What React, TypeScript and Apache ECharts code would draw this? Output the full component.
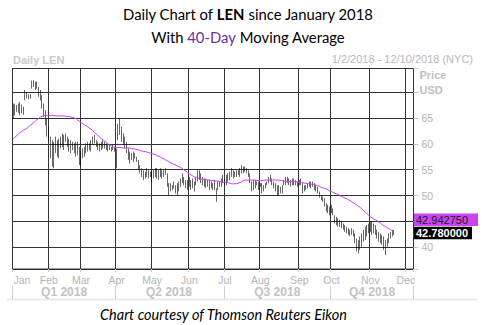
import React, { useEffect, useRef } from "react";
import * as echarts from "echarts";

const W = 482;
const H = 325;

const HOLIDAYS = [
  "2018-01-01", "2018-01-15", "2018-02-19", "2018-03-30", "2018-05-28",
  "2018-07-04", "2018-09-03", "2018-11-22", "2018-12-05",
];
const MONTHS = ["Jan", "Feb", "Mar", "Apr", "May", "Jun", "Jul", "Aug", "Sep", "Oct", "Nov", "Dec"];
const QUARTER_LABELS = ["Q1 2018", "Q2 2018", "Q3 2018", "Q4 2018"];
// 45 is hidden behind the value boxes in the reference
const Y_TICK_LABELS = [40, 50, 55, 60, 65];

const LOWS = [
  64.9, 65.5, 66.2, 66.0, 65.5, 65.9, 65.6, 68.4, 68.8, 68.6,
  68.7, 70.7, 71.0, 70.4, 70.7, 69.1, 68.4, 66.8, 65.2, 63.6,
  61.4, 60.4, 57.2, 55.6, 55.3, 58.2, 57.5, 57.2, 59.1, 59.4,
  58.8, 60.4, 59.4, 58.5, 58.2, 58.8, 58.2, 57.5, 57.8, 55.9,
  55.9, 57.2, 57.5, 58.2, 58.5, 58.8, 58.5, 59.8, 60.1, 59.4,
  58.8, 58.5, 58.8, 59.1, 59.1, 58.8, 58.5, 58.8, 58.5, 58.8,
  58.5, 55.3, 60.7, 61.7, 60.4, 59.8, 59.1, 58.2, 56.9, 56.2,
  56.9, 56.5, 57.2, 56.5, 54.9, 54.3, 53.6, 53.0, 53.3, 53.6,
  53.3, 53.6, 52.7, 53.3, 53.6, 53.3, 53.0, 53.6, 53.3, 53.6,
  54.0, 51.7, 50.1, 50.8, 51.1, 51.4, 50.4, 50.1, 50.8, 51.7,
  52.4, 52.0, 51.4, 51.1, 51.7, 51.1, 51.4, 50.8, 52.0, 52.7,
  53.0, 52.4, 52.0, 51.7, 51.4, 51.7, 51.1, 51.4, 51.1, 51.1,
  48.8, 51.1, 51.7, 51.7, 52.4, 52.0, 52.0, 52.7, 53.0, 53.6,
  53.3, 53.6, 53.6, 54.0, 53.6, 54.3, 54.3, 54.6, 54.3, 53.6,
  52.4, 50.8, 51.1, 51.4, 52.0, 51.1, 51.7, 50.4, 50.8, 51.4,
  52.0, 52.4, 52.7, 52.0, 51.4, 50.8, 50.1, 50.1, 50.4, 50.4,
  52.0, 52.0, 52.4, 52.0, 51.7, 52.0, 52.0, 52.0, 51.7, 52.0,
  52.0, 50.4, 50.8, 51.1, 51.4, 51.7, 51.4, 51.7, 51.1, 50.8,
  50.4, 49.6, 49.1, 48.8, 47.9, 46.9, 46.6, 46.2, 46.6, 46.2,
  44.6, 44.3, 44.0, 44.0, 43.7, 43.4, 43.0, 42.7, 42.4, 42.1,
  42.4, 42.1, 40.8, 39.2, 38.8, 39.5, 40.1, 41.1, 41.4, 42.1,
  42.7, 43.0, 42.4, 42.7, 42.4, 41.7, 41.1, 40.8, 40.5, 39.5,
  38.5, 40.1, 40.8, 41.7, 42.1, 42.4,
];

const HIGHS = [
  67.8, 67.6, 67.5, 67.8, 68.1, 67.6, 67.2, 70.4, 70.0, 69.6,
  69.6, 72.2, 72.3, 72.0, 72.0, 71.0, 70.4, 69.4, 67.8, 66.5,
  64.9, 63.3, 61.4, 60.7, 60.4, 61.4, 60.7, 61.0, 61.4, 62.0,
  61.7, 62.0, 61.4, 61.0, 60.7, 60.4, 60.1, 60.4, 60.4, 59.4,
  58.5, 59.1, 59.4, 60.1, 60.4, 60.1, 60.7, 61.4, 61.7, 60.7,
  60.4, 60.1, 60.4, 60.7, 60.4, 60.1, 59.8, 59.8, 59.4, 59.8,
  59.4, 59.1, 63.9, 64.9, 63.3, 62.0, 61.4, 60.4, 59.1, 58.5,
  58.2, 58.5, 58.2, 57.5, 56.9, 55.9, 55.3, 54.9, 54.6, 55.3,
  54.9, 54.6, 54.9, 54.9, 55.3, 55.3, 54.9, 55.3, 54.9, 54.9,
  55.3, 54.3, 52.4, 52.4, 52.0, 52.7, 52.0, 52.4, 52.7, 53.3,
  54.3, 53.6, 53.0, 53.0, 53.6, 53.0, 53.3, 52.7, 53.6, 54.9,
  54.9, 54.3, 53.6, 53.3, 53.3, 53.0, 53.0, 52.7, 52.4, 53.0,
  51.4, 52.7, 52.7, 53.3, 54.0, 53.3, 54.0, 54.3, 54.6, 55.3,
  54.9, 54.6, 54.9, 54.9, 55.3, 55.9, 55.6, 55.6, 55.3, 54.9,
  54.3, 52.7, 53.0, 53.0, 52.7, 52.7, 52.4, 52.4, 52.0, 52.4,
  52.7, 53.6, 54.0, 53.3, 52.7, 52.4, 52.0, 52.0, 51.7, 52.0,
  53.0, 53.6, 53.6, 53.3, 53.0, 53.3, 53.3, 53.0, 52.7, 53.0,
  53.3, 52.4, 52.0, 52.0, 52.4, 52.7, 52.7, 52.7, 52.4, 52.0,
  51.7, 50.8, 50.1, 49.8, 49.5, 48.5, 48.2, 47.9, 48.2, 47.5,
  46.2, 45.9, 45.6, 45.3, 45.0, 44.6, 44.3, 44.0, 43.7, 43.4,
  43.7, 43.4, 42.7, 41.7, 41.4, 42.1, 42.7, 43.4, 44.0, 44.3,
  44.6, 45.0, 45.0, 44.6, 44.3, 43.4, 43.0, 42.7, 42.4, 42.1,
  41.4, 41.7, 42.7, 43.0, 43.4, 43.35,
];

const MA40 = [
  61.0, 61.3, 61.6, 61.9, 62.2, 62.4, 62.6, 62.8, 63.0, 63.3,
  63.6, 63.8, 64.1, 64.4, 64.7, 64.9, 65.2, 65.3, 65.5, 65.5,
  65.5, 65.5, 65.5, 65.5, 65.5, 65.4, 65.4, 65.4, 65.4, 65.4,
  65.4, 65.3, 65.3, 65.3, 65.2, 65.1, 65.0, 64.9, 64.6, 64.4,
  64.1, 63.9, 63.7, 63.5, 63.3, 63.0, 62.8, 62.5, 62.2, 61.9,
  61.6, 61.3, 61.0, 60.8, 60.5, 60.3, 60.0, 59.8, 59.6, 59.4,
  59.3, 59.3, 59.3, 59.3, 59.3, 59.2, 59.2, 59.2, 59.2, 59.2,
  59.1, 59.0, 59.0, 58.9, 58.8, 58.7, 58.6, 58.5, 58.5, 58.4,
  58.3, 58.2, 58.1, 58.0, 57.9, 57.7, 57.6, 57.4, 57.2, 57.1,
  56.9, 56.7, 56.5, 56.3, 56.2, 56.0, 55.9, 55.7, 55.6, 55.4,
  55.2, 54.9, 54.7, 54.4, 54.2, 54.0, 53.8, 53.6, 53.5, 53.4,
  53.3, 53.2, 53.2, 53.1, 53.1, 53.0, 53.0, 52.9, 52.9, 52.8,
  52.8, 52.8, 52.7, 52.7, 52.6, 52.6, 52.5, 52.5, 52.4, 52.3,
  52.25, 52.3, 52.3, 52.4, 52.5, 52.7, 52.9, 53.0, 53.0, 53.0,
  53.0, 53.0, 53.0, 53.0, 52.9, 52.9, 52.9, 52.9, 52.9, 53.0,
  53.0, 53.0, 53.0, 53.0, 53.0, 53.0, 53.0, 53.0, 52.9, 52.9,
  52.8, 52.8, 52.7, 52.7, 52.7, 52.7, 52.7, 52.7, 52.6, 52.6,
  52.5, 52.5, 52.4, 52.4, 52.3, 52.3, 52.2, 52.2, 52.1, 52.0,
  51.9, 51.8, 51.6, 51.5, 51.4, 51.3, 51.1, 50.9, 50.8, 50.6,
  50.5, 50.3, 50.2, 50.0, 49.8, 49.7, 49.5, 49.4, 49.2, 49.0,
  48.8, 48.6, 48.4, 48.2, 47.9, 47.7, 47.4, 47.1, 46.8, 46.5,
  46.2, 45.9, 45.7, 45.5, 45.3, 45.1, 44.9, 44.7, 44.4, 44.2,
  44.0, 43.8, 43.6, 43.4, 43.2, 42.94,
];

const LAST_CLOSE = 42.78;
const LAST_MA = 42.94275;
const Y_MIN = 35.81;
const Y_MAX = 74.56;

function tradingDays(): string[] {
  const out: string[] = [];
  const d = new Date(Date.UTC(2018, 0, 2));
  const end = Date.UTC(2018, 11, 10);
  while (d.getTime() <= end) {
    const dow = d.getUTCDay();
    const s = d.toISOString().slice(0, 10);
    if (dow !== 0 && dow !== 6 && HOLIDAYS.indexOf(s) < 0) out.push(s);
    d.setUTCDate(d.getUTCDate() + 1);
  }
  return out;
}

const DATES = tradingDays();
const monthOf = (s: string) => parseInt(s.slice(5, 7), 10) - 1;
const MONTH_START = new Set<number>();
DATES.forEach((s, i) => {
  if (i === 0 || monthOf(s) !== monthOf(DATES[i - 1])) MONTH_START.add(i);
});
const QUARTER_START: number[] = [];
MONTH_START.forEach((i) => {
  if (monthOf(DATES[i]) % 3 === 0) QUARTER_START.push(i);
});
const QUARTER_MID = new Map<number, number>();
QUARTER_START.forEach((s, q) => {
  const e = q + 1 < QUARTER_START.length ? QUARTER_START[q + 1] - 1 : DATES.length - 1;
  QUARTER_MID.set(Math.floor((s + e) / 2), q);
});
const QUARTER_START_SET = new Set(QUARTER_START);

const CANDLES = LOWS.map((lo, i) => [lo, HIGHS[i], lo, HIGHS[i]]);

const GRID = { left: 12.5, right: 68.5, top: 68.5, bottom: 56 };
const AX_FONT = "Liberation Sans, Arial, sans-serif";
const TITLE_FONT = "Lato, Carlito, sans-serif";

function staticGraphics(): any[] {
  return [
    {
      id: "t1", type: "text", x: 248, y: 14, silent: true,
      style: {
        text: "{n|Daily Chart of }{b|LEN}{n| since January 2018}",
        align: "center", verticalAlign: "middle", textAlign: "center", textVerticalAlign: "middle",
        rich: {
          n: { fontSize: 14.8, fontFamily: TITLE_FONT, fill: "#000", color: "#000" },
          b: { fontSize: 14.8, fontFamily: TITLE_FONT, fontWeight: "bold", fill: "#000", color: "#000" },
        },
      },
    },
    {
      id: "t2", type: "text", x: 248, y: 37, silent: true,
      style: {
        text: "{n|With }{p|40-Day}{n| Moving Average}",
        align: "center", verticalAlign: "middle", textAlign: "center", textVerticalAlign: "middle",
        rich: {
          n: { fontSize: 14.8, fontFamily: TITLE_FONT, fill: "#000", color: "#000" },
          p: { fontSize: 14.8, fontFamily: TITLE_FONT, fill: "#7030a0", color: "#7030a0" },
        },
      },
    },
    {
      id: "dl", type: "text", x: 13, y: 59.5, silent: true,
      style: {
        text: "Daily LEN", fill: "#c8c8c8", fontSize: 11, fontWeight: "bold", fontFamily: AX_FONT,
        align: "left", verticalAlign: "middle", textAlign: "left", textVerticalAlign: "middle",
      },
    },
    {
      id: "dr", type: "text", x: 473, y: 59, silent: true,
      style: {
        text: "1/2/2018 - 12/10/2018 (NYC)", fill: "#b8b8b8", fontSize: 11, fontFamily: AX_FONT,
        align: "right", verticalAlign: "middle", textAlign: "right", textVerticalAlign: "middle",
      },
    },
    {
      id: "pr", type: "text", x: 419.5, y: 75, silent: true,
      style: {
        text: "Price", fill: "#c0c0c0", fontSize: 11, fontWeight: "bold", fontFamily: AX_FONT,
        align: "left", verticalAlign: "middle", textAlign: "left", textVerticalAlign: "middle",
      },
    },
    {
      id: "usd", type: "text", x: 419.5, y: 90, silent: true,
      style: {
        text: "USD", fill: "#c0c0c0", fontSize: 11, fontWeight: "bold", fontFamily: AX_FONT,
        align: "left", verticalAlign: "middle", textAlign: "left", textVerticalAlign: "middle",
      },
    },
    {
      id: "sep", type: "line", silent: true,
      shape: { x1: 7, y1: 299.5, x2: 477, y2: 299.5 },
      style: { stroke: "#ebebeb", lineWidth: 2 },
    },
    {
      id: "foot", type: "text", x: 223.5, y: 314, silent: true,
      style: {
        text: "Chart courtesy of Thomson Reuters Eikon", fill: "#000", fontSize: 14.5,
        fontStyle: "italic", fontFamily: TITLE_FONT,
        align: "center", verticalAlign: "middle", textAlign: "center", textVerticalAlign: "middle",
      },
    },
  ];
}

export default function App() {
  const ref = useRef<HTMLDivElement>(null);

  useEffect(() => {
    document.body.style.margin = "0";
    const chart = echarts.init(ref.current!, null, { renderer: "svg", width: W, height: H });

    const option: any = {
      animation: false,
      grid: {
        left: GRID.left, right: GRID.right, top: GRID.top, bottom: GRID.bottom,
        show: true, borderColor: "#333", borderWidth: 1, backgroundColor: "#fff",
      },
      xAxis: [
        {
          type: "category",
          data: DATES,
          boundaryGap: true,
          axisLine: { show: false },
          axisTick: {
            show: true, length: 3,
            interval: (i: number) => MONTH_START.has(i),
            lineStyle: { color: "#cccccc" },
          },
          axisLabel: {
            interval: (i: number) => MONTH_START.has(i),
            formatter: (v: string, i: number) => (i === 0 ? "{first|" + MONTHS[monthOf(v)] + "}" : MONTHS[monthOf(v)]),
            color: "#b4b4b4", fontSize: 10.5, fontFamily: AX_FONT, margin: 5,
            rich: { first: { padding: [0, 0, 0, 17], color: "#b4b4b4", fontSize: 10.5, fontFamily: AX_FONT } },
          },
          splitLine: {
            show: true,
            interval: (i: number) => MONTH_START.has(i),
            lineStyle: { color: "#333", width: 1 },
          },
        },
        {
          type: "category",
          data: DATES,
          boundaryGap: true,
          position: "bottom",
          offset: 17,
          axisLine: { show: false },
          axisTick: {
            show: true, length: 13,
            interval: (i: number) => QUARTER_START_SET.has(i),
            lineStyle: { color: "#cfcfcf", width: 1 },
          },
          axisLabel: {
            interval: (i: number) => QUARTER_MID.has(i),
            formatter: (_v: string, i: number) => QUARTER_LABELS[QUARTER_MID.get(i) ?? 0],
            color: "#c2c2c2", fontSize: 12, fontWeight: "bold", fontFamily: AX_FONT, margin: 0,
          },
          splitLine: { show: false },
        },
      ],
      yAxis: {
        type: "value",
        position: "right",
        min: Y_MIN,
        max: Y_MAX,
        splitNumber: 8,
        minInterval: 5,
        maxInterval: 5,
        axisLine: { show: false },
        axisTick: { show: true, length: 5, lineStyle: { color: "#c8c8c8" } },
        axisLabel: {
          margin: 8,
          color: "#b4b4b4", fontSize: 10.5, fontFamily: AX_FONT,
          formatter: (v: number) => (Y_TICK_LABELS.indexOf(Math.round(v * 100) / 100) >= 0 ? String(v) : ""),
        },
        splitLine: { show: true, lineStyle: { color: "#333", width: 1 } },
      },
      series: [
        {
          type: "candlestick",
          data: CANDLES,
          barWidth: 1,
          xAxisIndex: 0,
          itemStyle: {
            color: "#000", color0: "#000", borderColor: "#000", borderColor0: "#000", borderWidth: 0.6,
          },
          silent: true,
        },
        {
          type: "line",
          data: MA40,
          xAxisIndex: 0,
          symbol: "none",
          lineStyle: { color: "#c63cf2", width: 1 },
          silent: true,
        },
      ],
      graphic: staticGraphics(),
    };

    chart.setOption(option);

    const yClose = chart.convertToPixel({ yAxisIndex: 0 }, LAST_CLOSE) as number;
    const yMa = chart.convertToPixel({ yAxisIndex: 0 }, LAST_MA) as number;
    const boxH = 12.6;
    const bx = W - GRID.right + 0.5;
    const closeTop = yClose - boxH / 2;
    const maTop = Math.min(yMa - boxH / 2, closeTop - boxH - 0.6);

    chart.setOption({
      graphic: [
        ...staticGraphics(),
        {
          id: "maBox", type: "rect", silent: true, z: 100,
          shape: { x: bx, y: maTop, width: 64, height: boxH },
          style: { fill: "#cc44f2" },
        },
        {
          id: "maTxt", type: "text", x: bx + 2, y: maTop + boxH / 2, silent: true, z: 101,
          style: {
            text: LAST_MA.toFixed(6), fill: "#1a1a1a", fontSize: 11, fontFamily: AX_FONT,
            align: "left", verticalAlign: "middle", textAlign: "left", textVerticalAlign: "middle",
          },
        },
        {
          id: "clBox", type: "rect", silent: true, z: 100,
          shape: { x: bx, y: closeTop, width: 58, height: boxH },
          style: { fill: "#000" },
        },
        {
          id: "clTxt", type: "text", x: bx + 2, y: closeTop + boxH / 2, silent: true, z: 101,
          style: {
            text: LAST_CLOSE.toFixed(6), fill: "#fff", fontSize: 11, fontWeight: "bold", fontFamily: AX_FONT,
            align: "left", verticalAlign: "middle", textAlign: "left", textVerticalAlign: "middle",
          },
        },
      ],
    });

    return () => chart.dispose();
  }, []);

  return <div ref={ref} style={{ width: W, height: H }} />;
}
